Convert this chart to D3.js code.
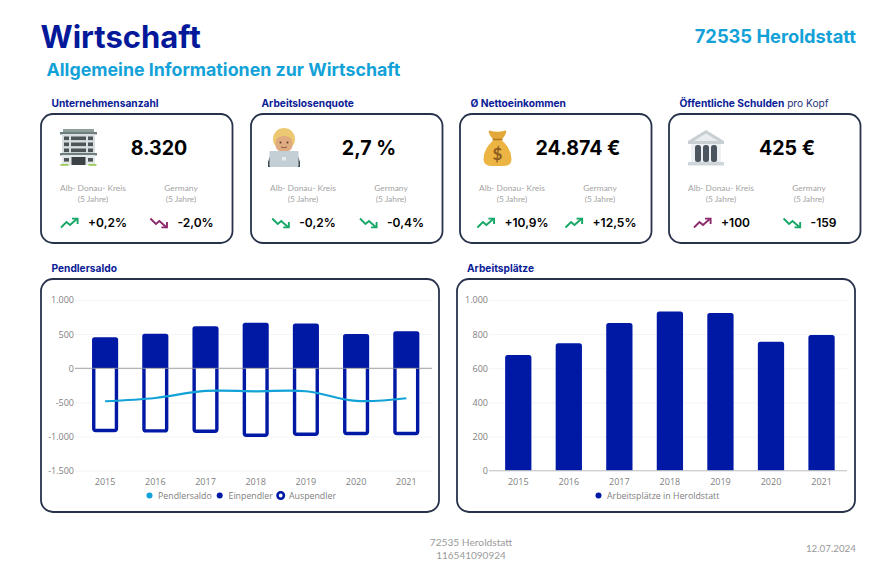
<!DOCTYPE html>
<html lang="de">
<head>
<meta charset="utf-8">
<script src="https://cdn.jsdelivr.net/npm/d3@7"></script>
<style>
  body { margin: 0; background: #fff; }
  text { font-family: "Lato", sans-serif; }
  .heavy { font-family: "Inter", sans-serif; }
  .axis text, .legend text { font-family: "Open Sans", sans-serif; font-size: 9px; fill: #808080; }
  .legend text { font-size: 8.8px; }
  .axis .domain { display: none; }
  .axis line { stroke: #f2f3f5; }
</style>
</head>
<body>
<div id="chart"></div>
<script>
// Data
const years = ["2015", "2016", "2017", "2018", "2019", "2020", "2021"];
const einpendler = [454, 507, 615, 668, 654, 503, 542];
const auspendler = [-937, -942, -947, -1005, -990, -981, -981];
const pendlersaldo = [-483, -435, -332, -337, -336, -478, -439];
const arbeitsplaetze = [678, 746, 865, 933, 924, 756, 795];
const pendlerTicks = [1000, 500, 0, -500, -1000, -1500];
const arbeitTicks = [1000, 800, 600, 400, 200, 0];

const cardTitles = ["Unternehmensanzahl", "Arbeitslosenquote", "Ø Nettoeinkommen", "Öffentliche Schulden"];
const cardValues = ["8.320", "2,7 %", "24.874 €", "425 €"];
const regionTrends = ["+0,2%", "-0,2%", "+10,9%", "+100"];
const germanyTrends = ["-2,0%", "-0,4%", "+12,5%", "-159"];
// trend direction and colour class of each small arrow
const regionDirs = ["up", "down", "up", "up"];
const germanyDirs = ["down", "down", "up", "down"];
const regionGood = [true, true, true, false];
const germanyGood = [false, true, true, true];

const navy = "#0019a5";
const titleBlue = "#0a2096";
const cyan = "#12a2d8";
const border = "#27324a";
const green = "#16a766";
const purple = "#8c2a6c";

const svg = d3.select("#chart")
    .append("svg")
    .attr("width", 896)
    .attr("height", 586)
    .style("display", "block");

// Page header
function label(x, y, str, size, weight, color, anchor) {
    return svg.append("text")
        .attr("x", x).attr("y", y)
        .attr("font-size", size)
        .attr("font-weight", weight)
        .attr("fill", color)
        .attr("text-anchor", anchor || "start")
        .text(str);
}
label(40.5, 48, "Wirtschaft", 31, 700, "#04199a").attr("class", "heavy");
label(46.5, 76, "Allgemeine Informationen zur Wirtschaft", 17.8, 700, cyan).attr("class", "heavy");
label(856, 43, "72535 Heroldstatt", 18.3, 700, cyan, "end").attr("class", "heavy");

// Footer
label(471, 546, "72535 Heroldstatt", 10.2, 400, "#9a9a9a", "middle");
label(471, 559, "116541090924", 10, 400, "#9a9a9a", "middle");
label(856, 552, "12.07.2024", 9.8, 400, "#9a9a9a", "end");

// Card frames and headings
function card(x, y, w, h) {
    svg.append("rect")
        .attr("x", x).attr("y", y)
        .attr("width", w).attr("height", h)
        .attr("rx", 12)
        .attr("fill", "#fff")
        .attr("stroke", border)
        .attr("stroke-width", 1.8);
}

// Small zigzag trend arrow, 17 wide
function trendArrow(g, x, y, dir, color) {
    const a = g.append("g")
        .attr("transform", `translate(${x},${y})` + (dir === "down" ? " translate(0,10) scale(1,-1)" : ""))
        .attr("fill", "none")
        .attr("stroke", color)
        .attr("stroke-width", 1.9);
    a.append("path").attr("d", "M0,9.5 L5.5,4 L9,7 L16,0.8");
    a.append("path").attr("d", "M11,0.6 H16.6 V6");
}

const cardXs = [41, 251, 460, 669];
cardXs.forEach((cx, i) => {
    card(cx, 114, 191.5, 129);
    const head = label(cx + 10.5, 107, cardTitles[i], 10.2, 700, titleBlue).attr("class", "heavy");
    if (i === 3) {
        head.append("tspan").attr("font-weight", 400).attr("fill", "#27327a").text(" pro Kopf");
    }

    label(cx + 118, 155, cardValues[i], 19.6, 700, "#000", "middle").attr("class", "heavy");

    label(cx + 52, 191, "Alb- Donau- Kreis", 8.4, 400, "#a4a4a4", "middle");
    label(cx + 52, 201.5, "(5 Jahre)", 8.4, 400, "#a4a4a4", "middle");
    label(cx + 140, 191, "Germany", 8.4, 400, "#a4a4a4", "middle");
    label(cx + 140, 201.5, "(5 Jahre)", 8.4, 400, "#a4a4a4", "middle");

    // arrow and figure are centred together under each column
    [[cx + 53, regionTrends[i], regionDirs[i], regionGood[i]],
     [cx + 141, germanyTrends[i], germanyDirs[i], germanyGood[i]]].forEach(t => {
        const g = svg.append("g");
        const txt = g.append("text")
            .attr("class", "heavy")
            .attr("y", 227)
            .attr("font-size", 12)
            .attr("font-weight", 600)
            .attr("fill", "#000")
            .text(t[1]);
        const tw = txt.node().getComputedTextLength();
        const left = t[0] - (27 + tw) / 2;
        txt.attr("x", left + 27);
        trendArrow(g, left, 218, t[2], t[3] ? green : purple);
    });
});

// Emoji style icons, drawn by hand
function iconBuilding(x, y) {
    const g = svg.append("g").attr("transform", `translate(${x},${y})`);
    g.append("rect").attr("x", 3).attr("y", 0).attr("width", 31).attr("height", 3).attr("fill", "#8fa09c");
    g.append("rect").attr("x", 0).attr("y", 3).attr("width", 37).attr("height", 2.5).attr("fill", "#6f7f80");
    g.append("rect").attr("x", 2).attr("y", 5).attr("width", 33).attr("height", 27).attr("fill", "#d9dfe0");
    g.append("rect").attr("x", 0).attr("y", 24).attr("width", 37).attr("height", 2.5).attr("fill", "#6f7f80");
    g.append("rect").attr("x", 2).attr("y", 26).attr("width", 33).attr("height", 10).attr("fill", "#e4e8e8");
    [7.5, 13.5, 19.5].forEach(wy => {
        g.append("rect").attr("x", 4).attr("y", wy).attr("width", 5).attr("height", 3.6).attr("fill", "#4c5558");
        g.append("rect").attr("x", 11).attr("y", wy).attr("width", 15).attr("height", 3.6).attr("fill", "#4c5558");
        g.append("rect").attr("x", 28).attr("y", wy).attr("width", 5).attr("height", 3.6).attr("fill", "#4c5558");
    });
    g.append("rect").attr("x", 11.5).attr("y", 28).attr("width", 14).attr("height", 8).attr("fill", "#3c4347");
    g.append("rect").attr("x", 4).attr("y", 29).attr("width", 5).attr("height", 3.6).attr("fill", "#4c5558");
    g.append("rect").attr("x", 28).attr("y", 29).attr("width", 5).attr("height", 3.6).attr("fill", "#4c5558");
    g.append("rect").attr("x", 0.5).attr("y", 35).attr("width", 8).attr("height", 1.8).attr("fill", "#9ccb5a");
    g.append("rect").attr("x", 28.5).attr("y", 35).attr("width", 8).attr("height", 1.8).attr("fill", "#9ccb5a");
}

function iconPerson(x, y) {
    const g = svg.append("g").attr("transform", `translate(${x},${y})`);
    g.append("circle").attr("cx", 16).attr("cy", 11).attr("r", 11).attr("fill", "#ecc873");
    g.append("rect").attr("x", 7.5).attr("y", 8).attr("width", 17).attr("height", 16).attr("rx", 7).attr("fill", "#e0ab80");
    g.append("path").attr("d", "M6,12 Q9,3 19,5 Q25,7 26,13 Q20,7 14,8 Q9,9 6,12 Z").attr("fill", "#ecc873");
    g.append("circle").attr("cx", 12.5).attr("cy", 14.5).attr("r", 1).attr("fill", "#5b3a26");
    g.append("circle").attr("cx", 19.5).attr("cy", 14.5).attr("r", 1).attr("fill", "#5b3a26");
    g.append("path").attr("d", "M13,19 Q16,20.5 19,19").attr("fill", "none").attr("stroke", "#7b4a30").attr("stroke-width", 0.8);
    g.append("path").attr("d", "M0,34 V39 H32 V34 L30,28 H2 Z").attr("fill", "#3c4a57");
    g.append("rect").attr("x", 1.5).attr("y", 23).attr("width", 29).attr("height", 16).attr("rx", 1).attr("fill", "#c3ced5");
    g.append("rect").attr("x", 14).attr("y", 29).attr("width", 4).attr("height", 3.5).attr("fill", "#e6ebee");
}

function iconMoney(x, y) {
    const g = svg.append("g").attr("transform", `translate(${x},${y})`);
    g.append("path").attr("d", "M6,0.5 Q14,3 22,0.5 Q24,1 21,6 L18,10 H10 L7,6 Q4,1 6,0.5 Z").attr("fill", "#e2a93a");
    g.append("path").attr("d", "M10,10 H18 Q28,19 28,29 Q28,36 20,36 H8 Q0,36 0,29 Q0,19 10,10 Z").attr("fill", "#ecb443");
    g.append("path").attr("d", "M9,9.5 H19").attr("stroke", "#b67a22").attr("stroke-width", 1.6);
    g.append("text").attr("x", 14).attr("y", 30)
        .attr("text-anchor", "middle")
        .attr("font-size", 17)
        .attr("font-weight", 700)
        .attr("fill", "#8a5a20")
        .text("$");
}

function iconBank(x, y) {
    const g = svg.append("g").attr("transform", `translate(${x},${y})`);
    g.append("path").attr("d", "M18,0 L36,11 V14 H0 V11 Z").attr("fill", "#c9d0d4");
    g.append("path").attr("d", "M18,3.5 L30,11 H6 Z").attr("fill", "#e9edef");
    g.append("rect").attr("x", 3).attr("y", 14).attr("width", 30).attr("height", 18).attr("fill", "#eef1f3");
    [7, 15, 23].forEach(cx => {
        g.append("rect").attr("x", cx).attr("y", 15).attr("width", 6).attr("height", 17).attr("rx", 2.5).attr("fill", "#4a5560");
    });
    g.append("rect").attr("x", 0).attr("y", 32).attr("width", 36).attr("height", 3.5).attr("fill", "#cfd6da");
}

iconBuilding(60, 129);
iconPerson(268, 128);
iconMoney(483.5, 130);
iconBank(688, 130);

// Shared pieces of the two bar charts
function yAxis(scale, ticks, x1, x2) {
    const g = svg.append("g")
        .attr("class", "axis")
        .attr("transform", `translate(${x1},0)`)
        .call(d3.axisLeft(scale)
            .tickValues(ticks)
            .tickSize(-(x2 - x1))
            .tickPadding(1)
            .tickFormat(d => d3.format(",")(d).replace(/,/g, ".").replace("−", "-")));
    return g;
}

function xAxis(scale, y) {
    svg.append("g")
        .attr("class", "axis")
        .attr("transform", `translate(0,${y})`)
        .call(d3.axisBottom(scale).tickSize(0).tickPadding(8));
}

// Bar outline with the two far corners rounded
function roundedBar(x, w, y0, y1, r) {
    const s = y1 < y0 ? 1 : -1;
    return `M${x},${y0} V${y1 + s * r} Q${x},${y1} ${x + r},${y1} H${x + w - r} Q${x + w},${y1} ${x + w},${y1 + s * r} V${y0}`;
}

// Pendlersaldo
card(41, 279, 398, 233);
label(51.5, 272, "Pendlersaldo", 10.2, 700, titleBlue).attr("class", "heavy");

const x1 = d3.scaleBand().domain(years).range([80, 431.4]).paddingInner(0.48).paddingOuter(0.24);
const y1 = d3.scaleLinear().domain([-1500, 1000]).range([470.7, 300]);

yAxis(y1, pendlerTicks, 75, 432);
xAxis(x1, 470.7);

svg.selectAll(".ein")
    .data(years)
    .join("path")
    .attr("class", "ein")
    .attr("d", (d, i) => roundedBar(x1(d), x1.bandwidth(), y1(0), y1(einpendler[i]), 2.5) + " Z")
    .attr("fill", navy);

const ausStroke = 3.4;
svg.selectAll(".aus")
    .data(years)
    .join("path")
    .attr("class", "aus")
    .attr("d", (d, i) => roundedBar(x1(d) + ausStroke / 2, x1.bandwidth() - ausStroke, y1(0), y1(auspendler[i]) - ausStroke / 2, 2))
    .attr("fill", "#fff")
    .attr("stroke", navy)
    .attr("stroke-width", ausStroke);

svg.append("line")
    .attr("x1", 75).attr("x2", 432)
    .attr("y1", y1(0)).attr("y2", y1(0))
    .attr("stroke", "#8a8a8a")
    .attr("stroke-width", 0.8);

const saldoLine = d3.line()
    .x((d, i) => x1(years[i]) + x1.bandwidth() / 2)
    .y(d => y1(d))
    .curve(d3.curveCatmullRom.alpha(0.5));

svg.append("path")
    .datum(pendlersaldo)
    .attr("d", saldoLine)
    .attr("fill", "none")
    .attr("stroke", cyan)
    .attr("stroke-width", 2.2);

// Arbeitsplätze
card(457, 279, 398, 233);
label(467, 272, "Arbeitsplätze", 10.2, 700, titleBlue).attr("class", "heavy");

const x2 = d3.scaleBand().domain(years).range([493, 846.8]).paddingInner(0.48).paddingOuter(0.24);
const y2 = d3.scaleLinear().domain([0, 1000]).range([470.7, 300]);

yAxis(y2, arbeitTicks, 489, 847);
xAxis(x2, 470.7);

svg.selectAll(".job")
    .data(years)
    .join("path")
    .attr("class", "job")
    .attr("d", (d, i) => roundedBar(x2(d), x2.bandwidth(), y2(0), y2(arbeitsplaetze[i]), 2.5) + " Z")
    .attr("fill", navy);

svg.append("line")
    .attr("x1", 489).attr("x2", 847)
    .attr("y1", y2(0)).attr("y2", y2(0))
    .attr("stroke", "#c4c4c4")
    .attr("stroke-width", 1);

// Legends
const legend = svg.append("g").attr("class", "legend");
function legendItem(cx, tx, name, color, ring) {
    legend.append("circle")
        .attr("cx", cx).attr("cy", 495.5)
        .attr("r", ring ? 3.2 : 3)
        .attr("fill", ring ? "#fff" : color)
        .attr("stroke", ring ? color : "none")
        .attr("stroke-width", ring ? 2.6 : 0);
    legend.append("text").attr("x", tx).attr("y", 498.6).text(name);
}
legendItem(149.5, 158, "Pendlersaldo", cyan);
legendItem(219.7, 228.5, "Einpendler", navy);
legendItem(280.7, 289, "Auspendler", navy, true);
legendItem(598.5, 607, "Arbeitsplätze in Heroldstatt", navy);
</script>
</body>
</html>
